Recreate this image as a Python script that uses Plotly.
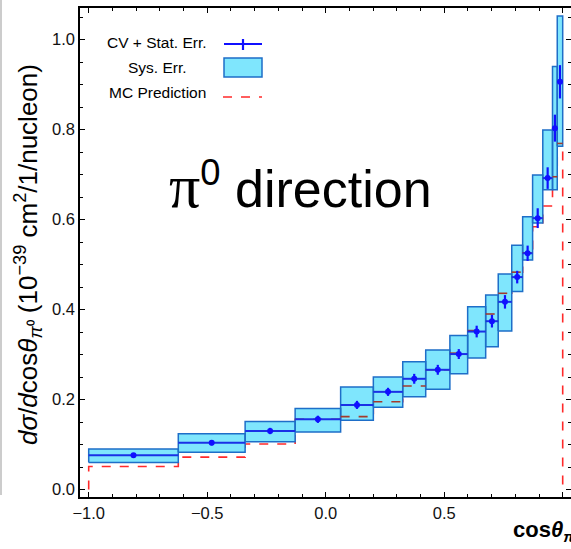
import plotly.graph_objects as go

# ---------------- data ----------------
bin_edges = [-1.0, -0.622, -0.340, -0.129, 0.063, 0.201, 0.325, 0.422, 0.524,
             0.599, 0.675, 0.728, 0.785, 0.831, 0.873, 0.916, 0.957, 0.977, 1.0]
cv_xsec = [0.076, 0.104, 0.130, 0.156, 0.188, 0.217, 0.246, 0.266, 0.301,
           0.351, 0.374, 0.417, 0.472, 0.525, 0.603, 0.692, 0.803, 0.906]
stat_err = [0.005, 0.006, 0.007, 0.008, 0.009, 0.009, 0.011, 0.011, 0.011,
            0.013, 0.014, 0.015, 0.014, 0.017, 0.022, 0.024, 0.030, 0.037]
sys_low = [0.060, 0.083, 0.106, 0.128, 0.154, 0.183, 0.206, 0.223, 0.257,
           0.292, 0.317, 0.352, 0.440, 0.510, 0.592, 0.666, 0.666, 0.763]
sys_high = [0.090, 0.124, 0.151, 0.180, 0.228, 0.250, 0.284, 0.310, 0.342,
            0.406, 0.432, 0.479, 0.543, 0.606, 0.699, 0.799, 0.940, 1.052]
mc_pred = [0.051, 0.072, 0.101, 0.156, 0.162, 0.195, 0.230, 0.266, 0.303,
           0.353, 0.390, 0.436, 0.483, 0.526, 0.584, 0.630, 0.695, 0.769]

x_tick_vals = [-1.0, -0.5, 0.0, 0.5, 1.0]
y_tick_vals = [0.0, 0.2, 0.4, 0.6, 0.8, 1.0]

# ---------------- styling ----------------
W, H = 571, 549
ML, MR, MT, MB = 80, 0, 8, 52
BLUE = "#1010ff"
LINE_BLUE = "#1a30e6"
BOX_EDGE = "#1e6ec8"
BOX_FILL = "#7fe6fd"
RED = "#ff2a2a"
DARK_RED = "#a33a2c"
FONT = "Liberation Sans"

nb = len(cv_xsec)
lo = bin_edges[:-1]
hi = bin_edges[1:]
centers = [(a + b) / 2 for a, b in zip(lo, hi)]

fig = go.Figure()

# MC prediction step line (bright red, underneath boxes)
mc_x = [bin_edges[0]] + list(hi) + [bin_edges[-1]]
mc_y = [0.0] + list(mc_pred) + [0.0]
fig.add_trace(go.Scatter(x=mc_x, y=mc_y, mode="lines", line_shape="vh",
                         line=dict(color=RED, width=1.6, dash="dash"),
                         hoverinfo="skip", showlegend=False))

# systematic error boxes
bx, by = [], []
for i in range(nb):
    bx += [lo[i], hi[i], hi[i], lo[i], lo[i], None]
    by += [sys_low[i], sys_low[i], sys_high[i], sys_high[i], sys_low[i], None]
fig.add_trace(go.Scatter(x=bx, y=by, mode="lines", fill="toself",
                         fillcolor=BOX_FILL, line=dict(color=BOX_EDGE, width=1.5),
                         hoverinfo="skip", showlegend=False))

# MC segments seen through the boxes (darker red)
dx, dy = [], []
for i in range(nb):
    if sys_low[i] <= mc_pred[i] <= sys_high[i]:
        dx += [lo[i], hi[i], None]
        dy += [mc_pred[i], mc_pred[i], None]
fig.add_trace(go.Scatter(x=dx, y=dy, mode="lines",
                         line=dict(color=DARK_RED, width=1.6, dash="dash"),
                         hoverinfo="skip", showlegend=False))

# CV horizontal bin lines
hx, hy = [], []
for i in range(nb):
    hx += [lo[i], hi[i], None]
    hy += [cv_xsec[i], cv_xsec[i], None]
fig.add_trace(go.Scatter(x=hx, y=hy, mode="lines",
                         line=dict(color=LINE_BLUE, width=2),
                         hoverinfo="skip", showlegend=False))

# CV points with stat errors
fig.add_trace(go.Scatter(x=centers, y=cv_xsec, mode="markers",
                         marker=dict(color=BLUE, size=6),
                         error_y=dict(type="data", array=stat_err, color=BLUE,
                                      thickness=2.2, width=0),
                         showlegend=False))

# dummy trace for right-side tick axis
fig.add_trace(go.Scatter(x=[None], y=[None], yaxis="y2", showlegend=False))

# ---------------- axes ----------------
PW = W - ML - MR
PH = H - MT - MB
x0_pix, x_scale = 88.7, 237.0
y0_pix, y_scale = 489.5, 450.0
xr = [(ML - x0_pix) / x_scale - 1.0, (W - MR - x0_pix) / x_scale - 1.0]
yr = [(y0_pix - (H - MB)) / y_scale, (y0_pix - MT) / y_scale]

tickfont = dict(family=FONT, size=16.5, color="#111")
fig.update_layout(
    width=W, height=H,
    margin=dict(l=ML, r=MR, t=MT, b=MB),
    paper_bgcolor="white", plot_bgcolor="white",
    showlegend=False,
    xaxis=dict(range=xr, tickvals=x_tick_vals, tickformat=".1f",
               ticks="inside", ticklen=5, tickwidth=1.2, tickcolor="black",
               showline=True, linecolor="black", linewidth=1.5,
               mirror="ticks", showgrid=False, zeroline=False,
               tickfont=tickfont, automargin=False,
               minor=dict(dtick=0.1, tick0=0, ticks="inside", ticklen=3,
                          tickwidth=1, tickcolor="black", showgrid=False)),
    yaxis=dict(range=yr, tickvals=y_tick_vals, tickformat=".1f",
               ticks="inside", ticklen=5, tickwidth=1.2, tickcolor="black",
               showline=True, linecolor="black", linewidth=1.5,
               mirror=False, showgrid=False, zeroline=False,
               tickfont=tickfont, automargin=False,
               minor=dict(dtick=0.05, tick0=0, ticks="inside", ticklen=3,
                          tickwidth=1, tickcolor="black", showgrid=False)),
    yaxis2=dict(range=yr, overlaying="y", side="right", tickvals=y_tick_vals,
                ticks="inside", ticklen=5, tickwidth=1.2, tickcolor="black",
                showline=False, showgrid=False, zeroline=False,
                showticklabels=False, automargin=False,
                minor=dict(dtick=0.05, tick0=0, ticks="inside", ticklen=3,
                           tickwidth=1, tickcolor="black", showgrid=False)),
)


def px(xp):
    return (xp - ML) / PW


def py(yp):
    return (H - MB - yp) / PH


# ---------------- legend (drawn manually) ----------------
legend_font = dict(family=FONT, size=15.5, color="black")
legend_labels = ["CV + Stat. Err.", "Sys. Err.", "MC Prediction"]
legend_rows = [43, 67, 92]
for lab, yy in zip(legend_labels, legend_rows):
    fig.add_annotation(x=px(157), y=py(yy), xref="paper", yref="paper",
                       text=lab, showarrow=False, font=legend_font,
                       xanchor="center", yanchor="middle")
# CV symbol
fig.add_shape(type="line", xref="paper", yref="paper",
              x0=px(224), x1=px(262), y0=py(44), y1=py(44),
              line=dict(color=BLUE, width=2))
fig.add_shape(type="line", xref="paper", yref="paper",
              x0=px(243), x1=px(243), y0=py(39), y1=py(50),
              line=dict(color=BLUE, width=2.2))
# Sys symbol
fig.add_shape(type="rect", xref="paper", yref="paper",
              x0=px(224), x1=px(262), y0=py(77), y1=py(58),
              fillcolor=BOX_FILL, line=dict(color=BOX_EDGE, width=1.5))
# MC symbol
fig.add_shape(type="line", xref="paper", yref="paper",
              x0=px(223), x1=px(262), y0=py(97), y1=py(97),
              line=dict(color=RED, width=1.6, dash="dash"))

# ---------------- texts ----------------
fig.add_annotation(
    x=px(300), y=py(186), xref="paper", yref="paper", showarrow=False,
    text="<span style='font-family:Liberation Serif;font-size:62px'>π</span>"
         "<sup>0</sup> direction",
    font=dict(family=FONT, size=52, color="black"),
    xanchor="center", yanchor="middle")

fig.add_annotation(
    x=px(28), y=py(255), xref="paper", yref="paper", showarrow=False,
    textangle=-90,
    text="<i>dσ</i>/<i>d</i>cos<i>θ</i><sub><i>π</i>⁰</sub> (10<sup>−39</sup> cm<sup>2</sup>/1/nucleon)",
    font=dict(family=FONT, size=26, color="black"),
    xanchor="center", yanchor="middle")

fig.add_annotation(
    x=px(511), y=py(531), xref="paper", yref="paper", showarrow=False,
    text="<b>cos<i>θ</i><sub><i>π</i>⁰</sub></b>",
    font=dict(family=FONT, size=22, color="black"),
    xanchor="left", yanchor="middle")

# thin grey border line on the far left (crop edge of the original)
fig.add_shape(type="line", xref="paper", yref="paper",
              x0=px(1), x1=px(1), y0=py(0), y1=py(495),
              line=dict(color="#999999", width=1))

fig.write_html("out.html")
